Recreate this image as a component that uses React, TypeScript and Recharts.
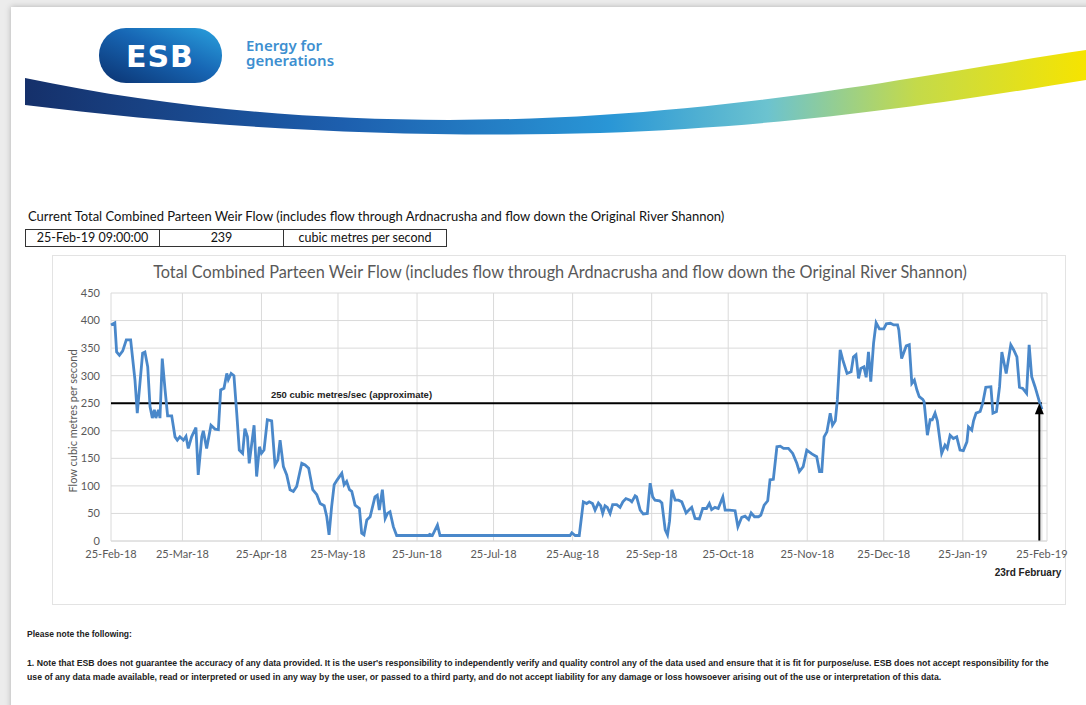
import { LineChart, Line, XAxis, YAxis, CartesianGrid, ReferenceLine } from 'recharts';

// days counted from 25-Feb-18
const days = [
  0, 1.5, 2.2, 3.3, 4.6, 6, 7.7, 9.4, 10.3, 12.4, 13.3, 14.4, 15.3, 16.2, 17, 17.6, 18.6, 19.2, 20.1, 21.2,
  22.2, 23.8, 25.1, 26, 27, 28.4, 29.4, 30.3, 31.6, 33.3, 34.2, 35.6, 36.2, 37.5, 39.2, 40.8, 42.1, 43, 44.3, 45.4,
  46, 47.1, 48.2, 49.3, 50.3, 51.6, 52.5, 53.5, 54.2, 56.1, 57.1, 58.2, 59, 60, 61.3, 63, 64.3, 65.4, 66.3, 67.6,
  68.9, 70.2, 71.5, 72.8, 74.8, 76.1, 77.5, 79.1, 80.7, 82, 83.6, 84.6, 85.5, 86.5, 87.5, 88.7, 90.5, 91.4, 92.4, 93.5,
  94.4, 95.7, 97.4, 98.3, 99.2, 100.3, 101.6, 103.5, 104.4, 105.2, 106.4, 107.5, 108.4, 109.4, 110.7, 112, 124.4, 125, 126, 128,
  129, 180, 180.7, 182, 183.6, 185.2, 186.5, 187.5, 188.8, 189.8, 191.1, 192, 192.8, 193.7, 194.6, 195.7, 196.7, 198.3, 199.6, 200.7,
  201.9, 203.5, 204.2, 205.5, 206.1, 207.5, 208.7, 210.3, 211.4, 212.4, 213.3, 215.1, 216, 217.3, 218.2, 219, 219.9, 221.2, 222.5, 223.8,
  225.5, 226.8, 227.7, 229, 230.7, 232, 233.5, 234.6, 235.5, 236.8, 238.1, 239.9, 240.8, 242.5, 244.7, 245.8, 247.3, 248.6, 250, 251,
  252.3, 253.9, 254.8, 256.1, 257.5, 258.4, 259.7, 261.1, 262.4, 263.7, 265.6, 267.3, 268.9, 269.9, 271.4, 272.8, 274.8, 276.7, 277.8, 278.7,
  279.6, 280.7, 282, 282.9, 284, 284.8, 285.9, 286.9, 288.6, 290.2, 291.1, 292.1, 293.1, 294, 295.2, 296.1, 297, 297.9, 299, 300,
  301.3, 303, 304, 305.6, 306.9, 308.4, 308.9, 310, 311.8, 313, 314, 315, 316, 316.9, 318.3, 318.8, 320.1, 321.2, 322, 323.1,
  324, 325.7, 327, 327.9, 329, 330.3, 331.6, 332.9, 334.2, 335.6, 336.2, 337.5, 338.2, 339.2, 340.8, 341.8, 343, 345, 345.8, 347.2,
  348.4, 349.3, 351, 352.8, 353.9, 355.2, 356.2, 357.5, 359, 360, 361, 362.3, 364, 365,
];

const flow = [
  392, 396, 343, 337, 345, 365, 365, 292, 232, 341, 343, 316, 244, 223, 238, 223, 238, 223, 331, 274,
  227, 227, 189, 183, 189, 183, 190, 168, 189, 206, 120, 189, 200, 168, 210, 203, 202, 274, 277, 304,
  293, 304, 300, 232, 165, 159, 204, 189, 141, 210, 117, 171, 159, 165, 220, 218, 138, 147, 183, 135,
  120, 93, 90, 99, 141, 138, 132, 93, 84, 68, 64, 44, 11, 62, 102, 111, 123, 102, 108, 93,
  90, 65, 59, 14, 11, 38, 44, 80, 83, 56, 93, 41, 50, 53, 26, 10, 10, 12, 10, 29,
  10, 10, 15, 10, 10, 71, 68, 71, 68, 56, 69, 64, 50, 64, 61, 50, 66, 66, 61, 71,
  77, 74, 71, 82, 80, 56, 49, 50, 105, 80, 74, 73, 69, 20, 11, 36, 93, 74, 74, 71,
  51, 57, 61, 41, 40, 59, 59, 68, 57, 61, 59, 80, 56, 56, 55, 26, 43, 45, 39, 51,
  44, 44, 47, 65, 73, 111, 112, 171, 172, 168, 168, 159, 141, 126, 135, 165, 158, 153, 126, 126,
  189, 198, 232, 210, 218, 256, 347, 329, 304, 307, 334, 338, 295, 313, 316, 297, 343, 289, 359, 396,
  385, 385, 394, 395, 392, 392, 383, 331, 354, 356, 286, 292, 274, 262, 257, 253, 192, 220, 220, 232,
  218, 159, 174, 168, 192, 186, 189, 165, 164, 180, 207, 201, 218, 232, 235, 250, 279, 280, 232, 235,
  280, 343, 304, 356, 347, 334, 279, 277, 268, 356, 298, 280, 253, 239,
];

const tickDays = [0, 28, 59, 89, 120, 150, 181, 212, 242, 273, 303, 334, 365];
const tickLabels = [
  '25-Feb-18', '25-Mar-18', '25-Apr-18', '25-May-18', '25-Jun-18', '25-Jul-18', '25-Aug-18',
  '25-Sep-18', '25-Oct-18', '25-Nov-18', '25-Dec-18', '25-Jan-19', '25-Feb-19',
];
const yTicks = [0, 50, 100, 150, 200, 250, 300, 350, 400, 450];

const threshold = 250;
const arrowDay = 364;

const data = days.map((d, i) => ({ day: d, flow: flow[i] }));

const calibri = 'Lato, "Open Sans", sans-serif';
const arial = '"Liberation Sans", Arial, sans-serif';

const ThresholdLabel = (props: any) => {
  const vb = props.viewBox || {};
  return (
    <text x={vb.x + 160} y={vb.y - 5} fontFamily={arial} fontWeight="bold" fontSize={9.5} fill="#222">
      250 cubic metres/sec (approximate)
    </text>
  );
};

const Arrow = (props: any) => {
  const { x1, y1, x2, y2 } = props;
  const top = Math.min(y1, y2);
  const bottom = Math.max(y1, y2);
  const x = x1;
  return (
    <g>
      <line x1={x} y1={bottom} x2={x} y2={top + 8} stroke="#000" strokeWidth={2} />
      <polygon points={`${x},${top} ${x - 4.5},${top + 11} ${x + 4.5},${top + 11}`} fill="#000" />
      <text x={x + 22} y={bottom + 35} textAnchor="end" fontFamily={arial} fontWeight="bold" fontSize={10} fill="#222">
        23rd February
      </text>
    </g>
  );
};

const App = () => {
  return (
    <div style={{ position: 'absolute', left: 0, top: 0, width: 1086, height: 705, overflow: 'hidden', background: '#ececec' }}>
      <div style={{ position: 'absolute', left: 11, top: 7, width: 1090, height: 720, background: '#fff', boxShadow: '0 0 6px rgba(0,0,0,0.25)' }} />

      {/* swoosh + logo */}
      <svg width={1086} height={150} style={{ position: 'absolute', left: 0, top: 0 }}>
        <defs>
          <linearGradient id="swoosh" x1="0" y1="0" x2="1" y2="0">
            <stop offset="0%" stopColor="#15306a" />
            <stop offset="30%" stopColor="#1d5fae" />
            <stop offset="55%" stopColor="#2996d6" />
            <stop offset="70%" stopColor="#6cc3cf" />
            <stop offset="84%" stopColor="#c4da4a" />
            <stop offset="100%" stopColor="#f6e400" />
          </linearGradient>
          <linearGradient id="pill" x1="0" y1="1" x2="1" y2="0">
            <stop offset="0%" stopColor="#0b3270" />
            <stop offset="55%" stopColor="#1766b4" />
            <stop offset="100%" stopColor="#2aa2de" />
          </linearGradient>
        </defs>
        <path
          d="M25,78 C200,115 400,128 600,115 C800,102 950,70 1086,50 L1086,80 C950,102 800,126 600,133 C400,139 200,127 25,105 Z"
          fill="url(#swoosh)"
        />
        <rect x={99} y={28} width={123} height={55} rx={27} ry={27} fill="url(#pill)" />
        <text x={160} y={67} textAnchor="middle" fontFamily='"DejaVu Sans", sans-serif' fontWeight="bold" fontSize={30} fill="#fff" letterSpacing={1}>
          ESB
        </text>
      </svg>
      <div style={{ position: 'absolute', left: 246, top: 38, fontFamily: '"Noto Sans", sans-serif', fontWeight: 600, fontSize: 15, lineHeight: '15px', color: '#3d8fd0' }}>
        <div>Energy for</div>
        <div>generations</div>
      </div>

      {/* current value table */}
      <div style={{ position: 'absolute', left: 28, top: 208, fontFamily: calibri, fontSize: 13, color: '#111', whiteSpace: 'nowrap' }}>
        Current Total Combined Parteen Weir Flow (includes flow through Ardnacrusha and flow down the Original River Shannon)
      </div>
      <div style={{ position: 'absolute', left: 25, top: 229, display: 'flex', border: '1px solid #333', height: 16, fontFamily: calibri, fontSize: 12.5, color: '#111', lineHeight: '16px' }}>
        <div style={{ width: 133, textAlign: 'center', borderRight: '1px solid #333' }}>25-Feb-19 09:00:00</div>
        <div style={{ width: 123, textAlign: 'center', borderRight: '1px solid #333' }}>239</div>
        <div style={{ width: 162, textAlign: 'center' }}>cubic metres per second</div>
      </div>

      {/* chart */}
      <div style={{ position: 'absolute', left: 52, top: 255, width: 1014, height: 350, border: '1px solid #e3e3e3', boxSizing: 'border-box' }}>
        <div style={{ position: 'absolute', left: 0, top: 6, width: 1014, textAlign: 'center', fontFamily: calibri, fontSize: 16.3, color: '#595959', whiteSpace: 'nowrap' }}>
          Total Combined Parteen Weir Flow (includes flow through Ardnacrusha and flow down the Original River Shannon)
        </div>
        <div style={{ position: 'absolute', left: 19, top: 165, transform: 'translate(-50%, -50%) rotate(-90deg)', fontFamily: calibri, fontSize: 11, color: '#595959', whiteSpace: 'nowrap' }}>
          Flow cubic metres per second
        </div>
        <div style={{ position: 'absolute', left: -1, top: -1 }}>
          <LineChart width={1034} height={350} data={data} margin={{ top: 38, right: 39, bottom: 34, left: 0 }}>
            <CartesianGrid stroke="#dadada" />
            <XAxis
              dataKey="day"
              type="number"
              domain={[0, 367]}
              ticks={tickDays}
              tickFormatter={(v: number) => tickLabels[tickDays.indexOf(v)]}
              height={30}
              tickSize={0}
              tickMargin={9}
              axisLine={{ stroke: '#dadada' }}
              tick={{ fontFamily: calibri, fontSize: 11, fill: '#595959' }}
              interval={0}
            />
            <YAxis
              type="number"
              domain={[0, 450]}
              ticks={yTicks}
              width={59}
              tickSize={0}
              tickMargin={11}
              axisLine={false}
              tick={{ fontFamily: calibri, fontSize: 11, fill: '#595959' }}
              interval={0}
            />
            <ReferenceLine
              segment={[{ x: 0, y: threshold }, { x: arrowDay + 1, y: threshold }]}
              stroke="#000"
              strokeWidth={2}
              label={<ThresholdLabel />}
            />
            <Line
              type="linear"
              dataKey="flow"
              stroke="#4a88ca"
              strokeWidth={2.8}
              dot={false}
              isAnimationActive={false}
            />
            <ReferenceLine
              segment={[{ x: arrowDay, y: 0 }, { x: arrowDay, y: threshold }]}
              shape={(p: any) => <Arrow {...p} />}
            />
          </LineChart>
        </div>
      </div>

      {/* notes */}
      <div style={{ position: 'absolute', left: 27, top: 629, fontFamily: arial, fontWeight: 'bold', fontSize: 8.5, color: '#222', whiteSpace: 'nowrap' }}>
        Please note the following:
      </div>
      <div style={{ position: 'absolute', left: 27, top: 656, fontFamily: arial, fontWeight: 'bold', fontSize: 8.7, lineHeight: '14px', color: '#222', whiteSpace: 'nowrap' }}>
        1. Note that ESB does not guarantee the accuracy of any data provided. It is the user's responsibility to independently verify and quality control any of the data used and ensure that it is fit for purpose/use. ESB does not accept responsibility for the
        <br />
        use of any data made available, read or interpreted or used in any way by the user, or passed to a third party, and do not accept liability for any damage or loss howsoever arising out of the use or interpretation of this data.
      </div>
    </div>
  );
};

export default App;
